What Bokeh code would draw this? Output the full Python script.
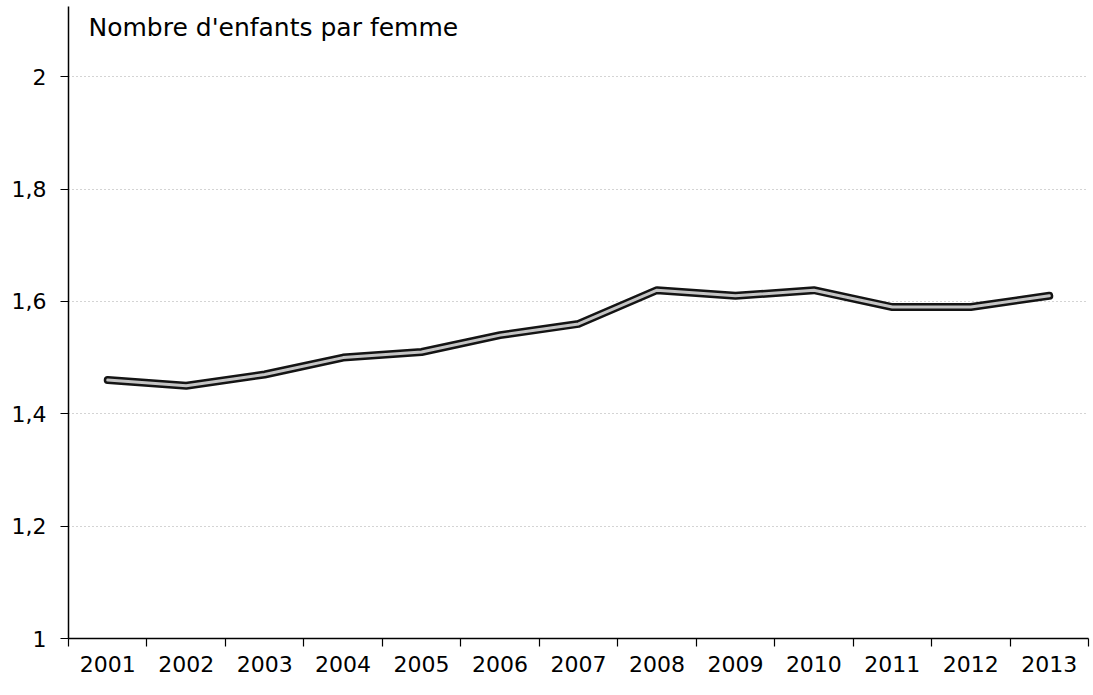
from bokeh.plotting import figure
from bokeh.models import FixedTicker, Range1d, Label, CustomJSTickFormatter
from bokeh.embed import file_html
from bokeh.resources import INLINE

years = ["2001", "2002", "2003", "2004", "2005", "2006", "2007",
         "2008", "2009", "2010", "2011", "2012", "2013"]
fertility = [1.46, 1.45, 1.47, 1.50, 1.51, 1.54, 1.56,
             1.62, 1.61, 1.62, 1.59, 1.59, 1.61]
y_ticks = [1.0, 1.2, 1.4, 1.6, 1.8, 2.0]
title_text = "Nombre d'enfants par femme"

FONT = "DejaVu Sans"
n = len(years)
xs = [i + 0.5 for i in range(n)]

p = figure(width=1090, height=690, output_backend="svg", toolbar_location=None,
           x_range=Range1d(0, n), y_range=Range1d(1.0, 2.125),
           min_border_left=68, min_border_right=2, min_border_top=6,
           min_border_bottom=52)
p.outline_line_color = None
p.background_fill_color = "white"
p.border_fill_color = "white"

# x axis: labels at centres, ticks at category boundaries (minor ticks)
p.xaxis.ticker = FixedTicker(ticks=xs, minor_ticks=list(range(n + 1)))
p.xaxis.major_label_overrides = {x: y for x, y in zip(xs, years)}
p.xaxis.major_tick_out = 0
p.xaxis.major_tick_in = 0
p.xaxis.minor_tick_out = 8
p.xaxis.minor_tick_in = 0
p.xaxis.minor_tick_line_color = "black"
p.xaxis.minor_tick_line_width = 1.2
p.xaxis.axis_line_color = "black"
p.xaxis.axis_line_width = 1.5
p.xaxis.major_label_standoff = 9
p.xaxis.major_label_text_font = FONT
p.xaxis.major_label_text_font_size = "22px"
p.xaxis.major_label_text_color = "black"
p.xgrid.visible = False

# y axis
p.yaxis.ticker = FixedTicker(ticks=y_ticks, minor_ticks=[])
p.yaxis.formatter = CustomJSTickFormatter(
    code="var s = tick.toFixed(1).replace('.', ','); return s.endsWith(',0') ? s.slice(0, -2) : s;")
p.yaxis.major_tick_out = 8
p.yaxis.major_tick_in = 0
p.yaxis.major_tick_line_color = "black"
p.yaxis.major_tick_line_width = 1.2
p.yaxis.minor_tick_line_color = None
p.yaxis.axis_line_color = "black"
p.yaxis.axis_line_width = 1.5
p.yaxis.major_label_standoff = 14
p.yaxis.major_label_text_font = FONT
p.yaxis.major_label_text_font_size = "22px"
p.yaxis.major_label_text_color = "black"

p.ygrid.ticker = FixedTicker(ticks=y_ticks[1:])
p.ygrid.grid_line_color = "#a8a8a8"
p.ygrid.grid_line_dash = "1 3"
p.ygrid.grid_line_width = 1

# double line: dark outline with light core
p.line(xs, fertility, line_color="#141414", line_width=8,
       line_join="round", line_cap="round")
p.line(xs, fertility, line_color="#c4c4c4", line_width=3,
       line_join="round", line_cap="round")

p.add_layout(Label(x=0.255, y=2.0876, text=title_text, text_baseline="middle",
                   text_font=FONT, text_font_size="25px",
                   text_color="black"))

open("out.html", "w").write(file_html(p, INLINE))
